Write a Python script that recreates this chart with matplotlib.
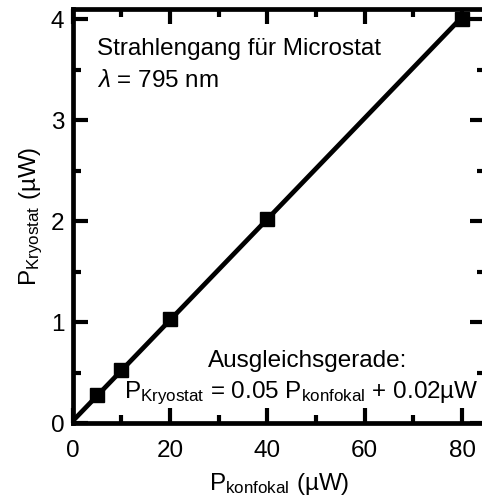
import numpy as np
import matplotlib
matplotlib.use("Agg")
import matplotlib.pyplot as plt
from matplotlib.ticker import MultipleLocator

plt.rcParams['font.family'] = ['Liberation Sans', 'DejaVu Sans']
plt.rcParams['mathtext.fontset'] = 'custom'
plt.rcParams['mathtext.rm'] = 'Liberation Sans'
plt.rcParams['mathtext.it'] = 'Liberation Sans:italic'

# measured power (uW)
p_konfokal = [5, 10, 20, 40, 80]
p_kryostat = [0.28, 0.52, 1.03, 2.02, 4.00]

# fit line y = slope*x + offset
slope = 0.05
offset = 0.02
fit_range = [0, 80]

fs = 17.5

fig = plt.figure(figsize=(4.82, 5.0), dpi=100)
ax = fig.add_axes([0.151, 0.154, 0.855, 0.828])

xf = np.array(fit_range)
ax.plot(xf, slope*xf + offset, color='black', lw=3.4, zorder=2, solid_capstyle='butt')
ax.plot(p_konfokal, p_kryostat, 's', color='black', ms=9.5, zorder=3)

ax.set_xlim(0, 84.7)
ax.set_ylim(0, 4.1)
ax.xaxis.set_major_locator(MultipleLocator(20))
ax.xaxis.set_minor_locator(MultipleLocator(10))
ax.yaxis.set_major_locator(MultipleLocator(1))
ax.yaxis.set_minor_locator(MultipleLocator(0.5))

for s in ax.spines.values():
    s.set_linewidth(3.4)
ax.tick_params(which='both', direction='in', top=True, right=True, width=3, labelsize=fs, pad=6)
ax.tick_params(axis='x', which='both', pad=12)
ax.tick_params(which='major', length=11)
ax.tick_params(which='minor', length=6)

ax.set_xlabel(r'P$_{\mathrm{konfokal}}$ (µW)', fontsize=fs, labelpad=7)
ax.set_ylabel(r'P$_{\mathrm{Kryostat}}$ (µW)', fontsize=fs, labelpad=4)

ax.text(0.059, 0.889, 'Strahlengang für Microstat', transform=ax.transAxes, fontsize=fs, va='baseline')
ax.text(0.059, 0.812, r'$\lambda$ = 795 nm', transform=ax.transAxes, fontsize=fs, va='baseline')
ax.text(0.328, 0.135, 'Ausgleichsgerade:', transform=ax.transAxes, fontsize=fs, va='baseline')
ax.text(0.985, 0.060, r'P$_{\mathrm{Kryostat}}$ = 0.05 P$_{\mathrm{konfokal}}$ + 0.02µW',
        transform=ax.transAxes, fontsize=fs, ha='right', va='baseline')

fig.savefig('out.png', dpi=100)
